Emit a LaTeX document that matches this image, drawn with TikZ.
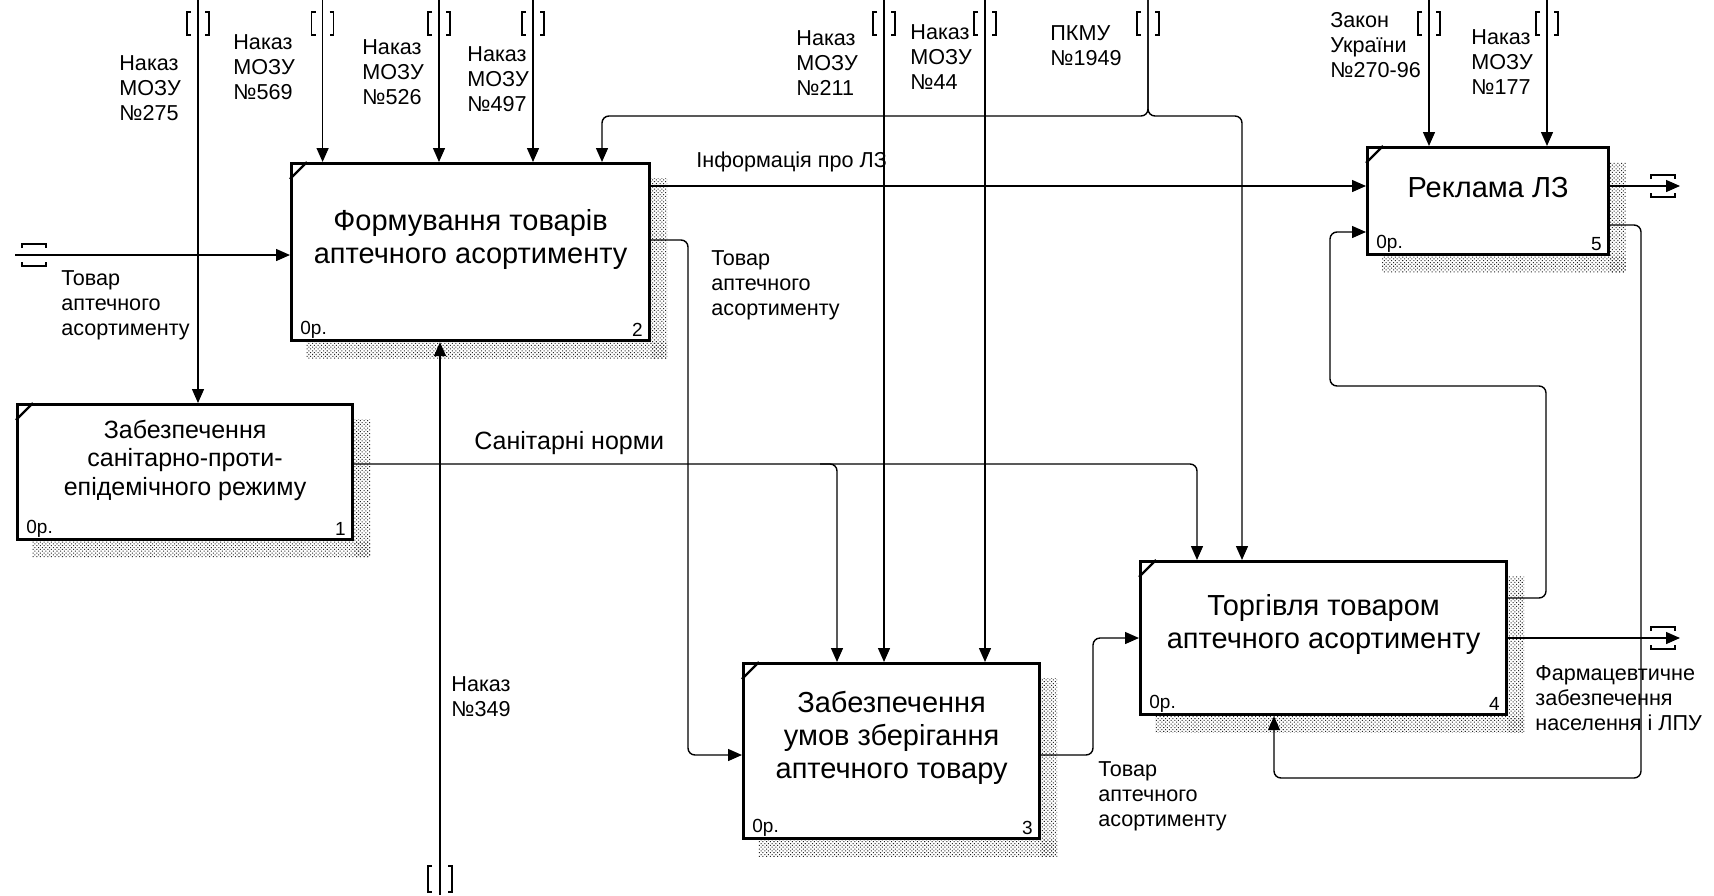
\documentclass[tikz,border=0pt]{standalone}
\usepackage{fontspec}
\setmainfont{Liberation Sans}
\usetikzlibrary{arrows.meta,patterns.meta}

\begin{document}
\begin{tikzpicture}[x=0.5pt,y=-0.5pt,
		fn/.style={draw,line width=1.6pt,fill=white,anchor=north west,inner sep=0},
		ttl/.style={align=center,inner sep=0,font=\fontsize{14.5}{16.5}\selectfont},
		lbl/.style={align=left,inner sep=0,anchor=west,font=\fontsize{10.8}{12.5}\selectfont},
		num/.style={inner sep=0,font=\fontsize{9.5}{11}\selectfont},
		arr/.style={line width=0.7pt,-{Triangle[length=7pt,width=6pt]}},
		rc/.style={rounded corners=3.5pt},
		brk/.style={line width=0.8pt},
		shd/.style={pattern={Dots[distance=1.3pt,radius=0.36pt,angle=45]},pattern color=black!85}]
			\path[use as bounding box,fill=white] (0,0) rectangle (1714,895);
			\node[fn,minimum width=167.5pt,minimum height=67.5pt] (b1) at (16,403) {};
			\node[fn,minimum width=179pt,minimum height=88.5pt] (b2) at (290,162) {};
			\node[fn,minimum width=148pt,minimum height=87.5pt] (b3) at (742,662) {};
			\node[fn,minimum width=183pt,minimum height=76.5pt] (b4) at (1139,560) {};
			\node[fn,minimum width=120.5pt,minimum height=53.5pt] (b5) at (1366,146) {};
			\foreach \b/\n in {b1/1,b2/2,b3/3,b4/4,b5/5}{
				\fill[shd] ([yshift=-8pt]\b.north east) rectangle ([shift={(8pt,-8pt)}]\b.south east);
				\fill[shd] ([xshift=8pt]\b.south west) rectangle ([shift={(8pt,-8pt)}]\b.south east);
				\draw[line width=1.2pt] ([yshift=-8.5pt]\b.north west) -- ([xshift=8.5pt]\b.north west);
				\node[num,anchor=west] (\b-z) at ([shift={(5pt,6pt)}]\b.south west) {0р.};
				\node[num,anchor=east] (\b-n) at ([shift={(-4pt,6pt)}]\b.south east) {\n};
			}
			\node[ttl,font=\fontsize{12.5}{14.3}\selectfont] (b1-t) at ([yshift=6pt]b1.center) {Забезпечення\\санітарно-проти-\\епідемічного режиму};
			\node[ttl] (b2-t) at ([yshift=6.5pt]b2.center) {Формування товарів\\аптечного асортименту};
			\node[ttl] (b3-t) at ([yshift=6.5pt]b3.center) {Забезпечення\\умов зберігання\\аптечного товару};
			\node[ttl] (b4-t) at ([yshift=7pt]b4.center) {Торгівля товаром\\аптечного асортименту};
			\node[ttl] (b5-t) at ([yshift=7pt]b5.center) {Реклама ЛЗ};
			\coordinate (t275) at (198,0);
			\coordinate (t569) at (322.6,0);
			\coordinate (t526) at (439,0);
			\coordinate (t497) at (533,0);
			\coordinate (t211) at (884,0);
			\coordinate (t44) at (985,0);
			\coordinate (t1949) at (1148,0);
			\coordinate (t270) at (1429,0);
			\coordinate (t177) at (1547,0);
			\coordinate (t349) at (440,895);
			\coordinate (tin) at (15,255);
			\coordinate (tout5) at (1680,186);
			\coordinate (tout4) at (1680,638);
			\foreach \t/\b in {t275/b1,t569/b2,t526/b2,t497/b2,t211/b3,t44/b3,t270/b5,t177/b5}
				\draw[arr] (\t) -- (\t |- \b.north);
			\draw[arr,rc] (t1949) |- (602,116) -- (602,0 |- b2.north);
			\draw[arr,rc] (t1949) |- (1242,116) -- (1242,0 |- b4.north);
			\draw[arr] (tin) -- (tin -| b2.west);
			\draw[arr] (t349) -- (t349 |- b2.south);
			\draw[arr] (b2.east |- 0,186) -- (b5.west |- 0,186);
			\draw[arr,rc] (b2.east |- 0,240) -| (688,755) -- (b3.west |- 0,755);
			\draw[arr,rc] (b1.east |- 0,464) -| (1197,0 |- b4.north);
			\draw[arr,rc] (820,464) -| (837,0 |- b3.north);
			\draw[arr,rc] (b3.east |- 0,755) -| (1093,638) -- (b4.west |- 0,638);
			\draw[arr] (b4.east |- 0,638) -- (tout4);
			\draw[arr,rc] (b4.east |- 0,598) -| (1546,386) -| (1330,232) -- (b5.west |- 0,232);
			\draw[arr] (b5.east |- 0,186) -- (tout5);
			\draw[arr,rc] (b5.east |- 0,225) -| (1641,778) -| (1274,0 |- b4.south);
			\foreach \x in {198,322.6,439,533,884,985,1148,1429,1547}
				\draw[brk] (\x-7,12) -- (\x-11,12) -- (\x-11,35) -- (\x-7,35) (\x+7,12) -- (\x+11,12) -- (\x+11,35) -- (\x+7,35);
			\draw[brk] (432,866) -- (428,866) -- (428,892) -- (432,892) (448,866) -- (452,866) -- (452,892) -- (448,892);
			\foreach \x/\y in {22/255,1651/186,1651/638}
				\draw[brk] (\x,\y-7) -- (\x,\y-11) -- (\x+24,\y-11) -- (\x+24,\y-7) (\x,\y+7) -- (\x,\y+11) -- (\x+24,\y+11) -- (\x+24,\y+7);
			\node[lbl] (l275) at (119,88) {Наказ\\МОЗУ\\№275};
			\node[lbl] (l569) at (233,67) {Наказ\\МОЗУ\\№569};
			\node[lbl] (l526) at (362,72) {Наказ\\МОЗУ\\№526};
			\node[lbl] (l497) at (467,79) {Наказ\\МОЗУ\\№497};
			\node[lbl] (l211) at (796,63) {Наказ\\МОЗУ\\№211};
			\node[lbl] (l44) at (910,57) {Наказ\\МОЗУ\\№44};
			\node[lbl] (l1949) at (1050,46) {ПКМУ\\№1949};
			\node[lbl] (l270) at (1330,45) {Закон\\України\\№270-96};
			\node[lbl] (l177) at (1471,62) {Наказ\\МОЗУ\\№177};
			\node[lbl] (lin) at (61,305) {Товар\\аптечного\\асортименту};
			\node[lbl] (linfo) at (696,162) {Інформація про ЛЗ};
			\node[lbl] (lt2) at (711,285) {Товар\\аптечного\\асортименту};
			\node[lbl,font=\fontsize{12.5}{14}\selectfont] (lsan) at (474,443) {Санітарні норми};
			\node[lbl] (lt3) at (1098,796) {Товар\\аптечного\\асортименту};
			\node[lbl] (lout) at (1535,698) {Фармацевтичне\\забезпечення\\населення і ЛПУ};
			\node[lbl] (l349) at (451,697) {Наказ\\№349};
		\end{tikzpicture}
\end{document}
